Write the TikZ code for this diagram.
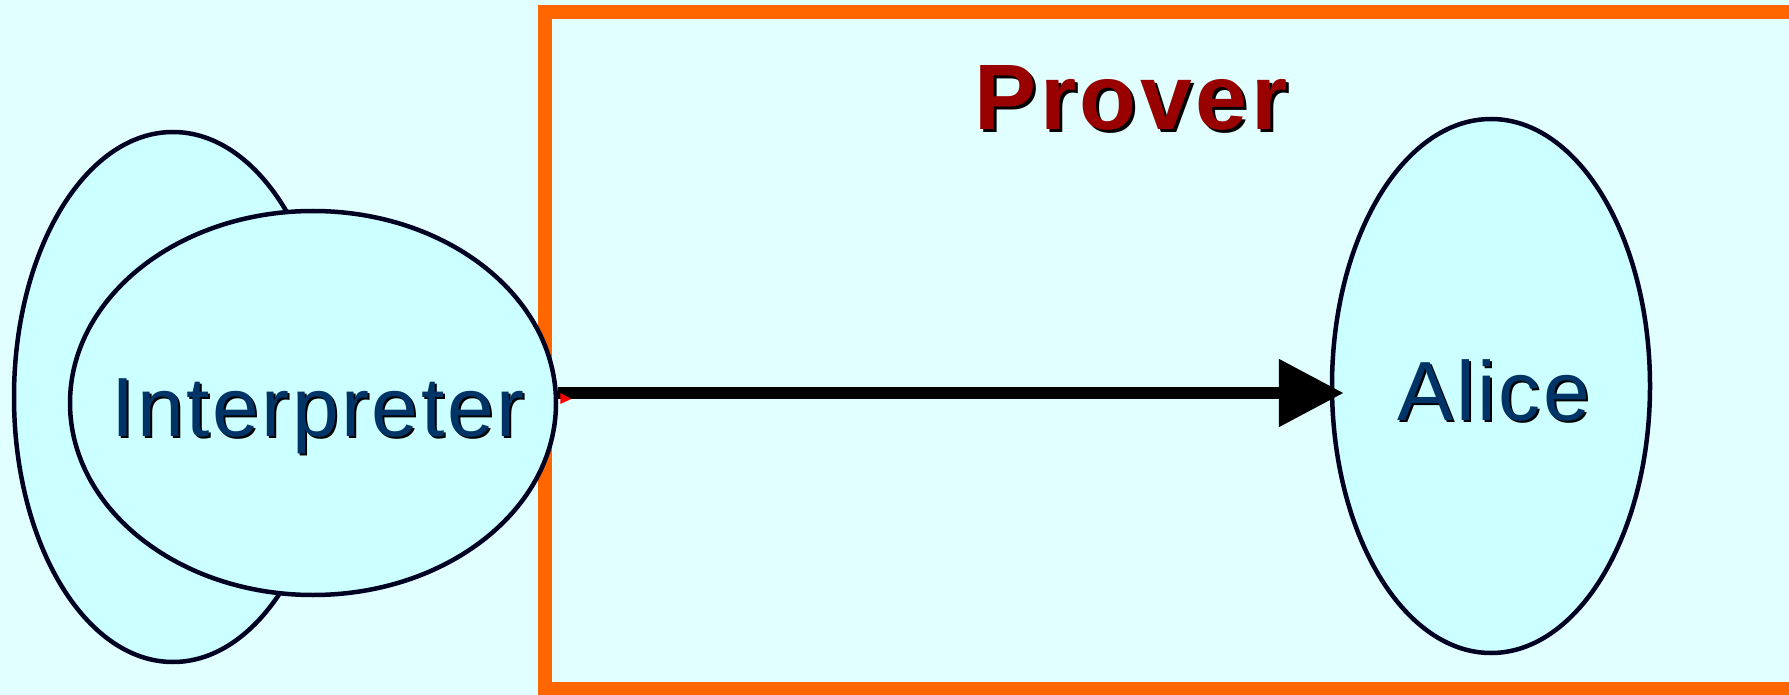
\documentclass[tikz,border=0pt]{standalone}
\usepackage{fontspec}
\setmainfont{Liberation Sans}
\newfontfamily\lblfont[LetterSpace=3]{Liberation Sans}
\newfontfamily\titlefont[LetterSpace=4]{Liberation Sans Bold}
\definecolor{bgcol}{HTML}{E2FFFF}
\definecolor{ellfill}{HTML}{CCFFFF}
\definecolor{ellline}{HTML}{000022}
\definecolor{boxorange}{HTML}{FF6600}
\definecolor{navy}{HTML}{003366}
\definecolor{darkred}{HTML}{990000}
\tikzset{
  blob/.style={ellipse, draw=ellline, fill=ellfill, line width=4.5pt, inner sep=0pt},
  lbl/.style={anchor=base, inner sep=0pt, font=\lblfont\fontsize{84}{84}\selectfont},
  ttl/.style={anchor=base, inner sep=0pt, font=\titlefont\fontsize{93}{93}\selectfont},
  shadowtxt/.style={text=black},
}
\usetikzlibrary{shapes.geometric,arrows.meta,calc}
\begin{document}
\begin{tikzpicture}[x=1pt,y=-1pt]
\fill[bgcol] (0,0) rectangle (1789,695);
\useasboundingbox (0,0) rectangle (1789,695);
% prover box
\draw[boxorange, line width=14pt] (545,12) rectangle (1800,689);
\node[ttl, shadowtxt] (provershadow) at (1134,133) {Prover};
\node[ttl, text=darkred] (prover) at (1131,130) {Prover};
% ellipses
\node[blob, minimum width=318pt, minimum height=530pt] (back) at (173,397) {};
\node[blob, minimum width=486pt, minimum height=384pt] (interp) at (313,403) {};
\node[blob, minimum width=318pt, minimum height=534pt] (alice) at (1491,386) {};
% labels
\node[lbl, shadowtxt] (interpshadow) at (320,438) {Interpreter};
\node[lbl, text=navy] (interplbl) at (318,436) {Interpreter};
\node[lbl, shadowtxt] (aliceshadow) at (1496,422) {Alice};
\node[lbl, text=navy] (alicelbl) at (1494,420) {Alice};
% arrow
\coordinate (astart) at (interp.east |- 0,393);
\coordinate (aend) at (alice.west |- 0,393);
\draw[line width=12pt, -{Triangle[length=65pt,width=65pt]}, shorten >=-14pt] (astart) -- (aend);
\fill[red] ($(astart)+(2,0)$) -- ($(astart)+(2,11)$) -- ($(astart)+(13,6)$) -- cycle;
\end{tikzpicture}
\end{document}
